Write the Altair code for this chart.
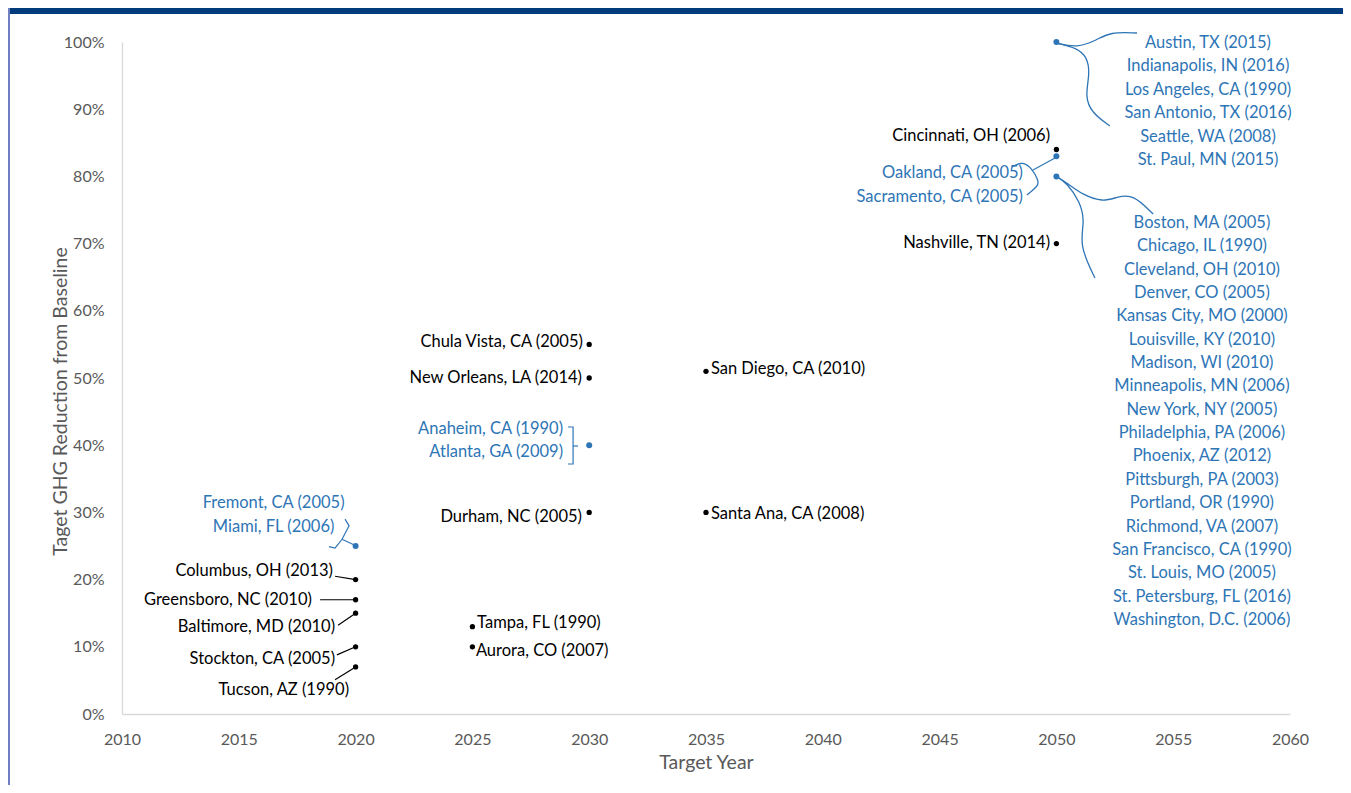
import altair as alt
import pandas as pd

FONT = "Lato"
BLACK = "#000000"
BLUE = "#2e75b6"
GREY = "#595959"

# ---------------- data: target points ----------------
point_years = [2020, 2020, 2020, 2020, 2020, 2020, 2025, 2025, 2030, 2030,
               2030, 2030, 2035, 2035, 2050, 2050, 2050, 2050, 2050]
point_reductions = [0.07, 0.10, 0.15, 0.17, 0.20, 0.25, 0.13, 0.10, 0.30, 0.40,
                    0.50, 0.55, 0.51, 0.30, 0.70, 0.84, 0.83, 0.80, 1.00]
point_shared = [False, False, False, False, False, True, False, False, False, True,
                False, False, False, False, False, False, True, True, True]

# ---------------- data: single / small-group labels ----------------
label_texts = ["Tucson, AZ (1990)", "Stockton, CA (2005)", "Baltimore, MD (2010)",
               "Greensboro, NC (2010)", "Columbus, OH (2013)", "Fremont, CA (2005)",
               "Miami, FL (2006)", "Tampa, FL (1990)", "Aurora, CO (2007)",
               "Durham, NC (2005)", "Anaheim, CA (1990)", "Atlanta, GA (2009)",
               "New Orleans, LA (2014)", "Chula Vista, CA (2005)", "San Diego, CA (2010)",
               "Santa Ana, CA (2008)", "Nashville, TN (2014)", "Cincinnati, OH (2006)",
               "Oakland, CA (2005)", "Sacramento, CA (2005)"]
label_years = [2019.72, 2019.12, 2019.12, 2018.13, 2019.03, 2016.49, 2016.49, 2025.20,
               2025.15, 2029.69, 2028.88, 2028.88, 2029.69, 2029.73, 2035.21, 2035.21,
               2049.73, 2049.73, 2048.57, 2048.57]
label_pcts = [0.0357, 0.0818, 0.1295, 0.1696, 0.2128, 0.3140, 0.2783, 0.1354, 0.0938,
              0.2932, 0.4241, 0.3899, 0.5000, 0.5536, 0.5134, 0.2976, 0.7009, 0.8601,
              0.8051, 0.7693]
label_aligns = ["right", "right", "right", "right", "right", "center", "center", "left",
                "left", "right", "right", "right", "right", "right", "left", "left",
                "right", "right", "right", "right"]
label_blue = [False, False, False, False, False, True, True, False, False, False, True,
              True, False, False, False, False, False, False, True, True]

# ---------------- data: large groups at 2050 ----------------
group_100 = ["Austin, TX (2015)", "Indianapolis, IN (2016)", "Los Angeles, CA (1990)",
             "San Antonio, TX (2016)", "Seattle, WA (2008)", "St. Paul, MN (2015)"]
group_80 = ["Boston, MA (2005)", "Chicago, IL (1990)", "Cleveland, OH (2010)",
            "Denver, CO (2005)", "Kansas City, MO (2000)", "Louisville, KY (2010)",
            "Madison, WI (2010)", "Minneapolis, MN (2006)", "New York, NY (2005)",
            "Philadelphia, PA (2006)", "Phoenix, AZ (2012)", "Pittsburgh, PA (2003)",
            "Portland, OR (1990)", "Richmond, VA (2007)", "San Francisco, CA (1990)",
            "St. Louis, MO (2005)", "St. Petersburg, FL (2016)", "Washington, D.C. (2006)"]
group_100_anchor = (2056.49, 0.9985, 0.0348)
group_80_anchor = (2056.23, 0.7307, 0.03475)

# ---------------- annotation connectors (leader lines & braces) ----------------
leaders = {
    "tucson": [(2019.12, 0.051), (2020, 0.07)],
    "stockton": [(2019.20, 0.088), (2020, 0.10)],
    "baltimore": [(2019.25, 0.132), (2020, 0.15)],
    "greensboro": [(2018.48, 0.17), (2020, 0.17)],
    "columbus": [(2019.12, 0.205), (2020, 0.20)],
}
blue_straight = {
    "fremont": [(2019.55, 0.290), (2019.72, 0.280), (2019.42, 0.260), (2019.12, 0.247),
                (2018.86, 0.249)],
    "fremont_ptr": [(2019.42, 0.260), (2019.97, 0.251)],
    "anaheim": [(2029.09, 0.4271), (2029.31, 0.4271), (2029.31, 0.3720), (2029.09, 0.3720)],
    "anaheim_ptr": [(2029.31, 0.3988), (2029.52, 0.3988)],
    "oakland_ptr": [(2049.00, 0.8095), (2049.94, 0.8274)],
}
blue_curves = {
    "oakland": [(2048.10, 0.814), (2048.57, 0.823), (2049.00, 0.8095), (2049.21, 0.7946),
                (2049.26, 0.7872), (2048.74, 0.7723)],
    "austin_up": [(2050.0, 0.9985), (2050.88, 0.9911), (2051.74, 1.003), (2052.29, 1.0149),
                  (2053.45, 1.0134)],
    "austin_down": [(2050.0, 0.9985), (2050.88, 0.9911), (2051.31, 0.9777), (2051.44, 0.9539),
                    (2051.22, 0.9182), (2051.52, 0.8943), (2052.29, 0.875)],
    "boston_up": [(2050.0, 0.8), (2050.45, 0.7902), (2051.14, 0.7723), (2051.99, 0.7619),
                  (2052.59, 0.7693), (2053.28, 0.7738), (2054.14, 0.744)],
    "boston_down": [(2050.0, 0.8), (2050.45, 0.7902), (2051.01, 0.7625), (2051.22, 0.7327),
                    (2050.97, 0.6979), (2051.65, 0.6488)],
}

# ---------------- build tables ----------------
pts = pd.DataFrame({
    "year": point_years,
    "reduction": point_reductions,
    "col": [BLUE if s else BLACK for s in point_shared],
    "size": [36 if s else 28 for s in point_shared],
})

lab_rows = []
for t, yx, yp, al, b in zip(label_texts, label_years, label_pcts, label_aligns, label_blue):
    lab_rows.append({"text": t, "year": yx, "pct": yp, "align": al, "col": BLUE if b else BLACK})
for grp, (gx, gy, step) in ((group_100, group_100_anchor), (group_80, group_80_anchor)):
    for i, t in enumerate(grp):
        lab_rows.append({"text": t, "year": gx, "pct": gy - i * step, "align": "center", "col": BLUE})
labs = pd.DataFrame(lab_rows)


def path_table(paths, colour):
    rows = []
    for name, pts_ in paths.items():
        for i, (x, y) in enumerate(pts_):
            rows.append({"cid": name, "o": i, "year": x, "pct": y, "col": colour})
    return pd.DataFrame(rows)


lead_df = pd.concat([path_table(leaders, BLACK), path_table(blue_straight, BLUE)], ignore_index=True)
curve_df = path_table(blue_curves, BLUE)

# ---------------- scales ----------------
xs = alt.Scale(domain=[2010, 2060], nice=False, zero=False)
ys = alt.Scale(domain=[0, 1], nice=False)

x_axis = alt.Axis(values=list(range(2010, 2061, 5)), format="d", title="Target Year",
                  grid=False, ticks=False, tickSize=0, labelPadding=17, titlePadding=6,
                  domainColor="#d9d9d9", domainWidth=1.3, labelFlush=False)
y_axis = alt.Axis(values=[i / 10 for i in range(11)], format=".0%",
                  title="Taget GHG Reduction from Baseline", grid=False, ticks=False,
                  tickSize=0, labelPadding=18, domainColor="#d9d9d9", domainWidth=1.3,
                  titleX=-62, titleY=359, titleAngle=270, titleBaseline="middle",
                  titleAlign="center")

base_pts = alt.Chart(pts).mark_circle(opacity=1).encode(
    x=alt.X("year:Q", scale=xs, axis=x_axis),
    y=alt.Y("reduction:Q", scale=ys, axis=y_axis),
    color=alt.Color("col:N", scale=None),
    size=alt.Size("size:Q", scale=None),
)

lead_layer = alt.Chart(lead_df).mark_line(strokeWidth=1.2).encode(
    x=alt.X("year:Q", scale=xs),
    y=alt.Y("pct:Q", scale=ys),
    detail="cid:N",
    order="o:Q",
    color=alt.Color("col:N", scale=None),
)

curve_layer = alt.Chart(curve_df).mark_line(strokeWidth=1.3, interpolate="basis").encode(
    x=alt.X("year:Q", scale=xs),
    y=alt.Y("pct:Q", scale=ys),
    detail="cid:N",
    order="o:Q",
    color=alt.Color("col:N", scale=None),
)

text_layers = []
for al in ["left", "center", "right"]:
    sub = labs[labs["align"] == al]
    text_layers.append(
        alt.Chart(sub).mark_text(align=al, baseline="middle", font=FONT, fontSize=16.5).encode(
            x=alt.X("year:Q", scale=xs),
            y=alt.Y("pct:Q", scale=ys),
            text="text:N",
            color=alt.Color("col:N", scale=None),
        )
    )

one = alt.Data(values=[{"k": 1}])
band = alt.Chart(one).mark_rect(color="#003b7b").encode(
    x=alt.value(-114), x2=alt.value(1221), y=alt.value(-34), y2=alt.value(-28))
left_border = alt.Chart(one).mark_rect(color="#6f7fc2").encode(
    x=alt.value(-114), x2=alt.value(-112), y=alt.value(-34), y2=alt.value(743))

chart = alt.layer(
    band, left_border, lead_layer, curve_layer, *text_layers, base_pts
).properties(
    width=1168, height=672,
    padding={"left": 114, "top": 34, "right": 53, "bottom": 71},
    autosize=alt.AutoSizeParams(type="none"),
).configure_view(stroke=None).configure_axis(
    labelFont=FONT, titleFont=FONT, labelFontSize=16, titleFontSize=19.5,
    labelColor=GREY, titleColor=GREY, titleFontWeight="normal",
)

chart.save("out.html", embed_options={"renderer": "svg", "actions": False})
